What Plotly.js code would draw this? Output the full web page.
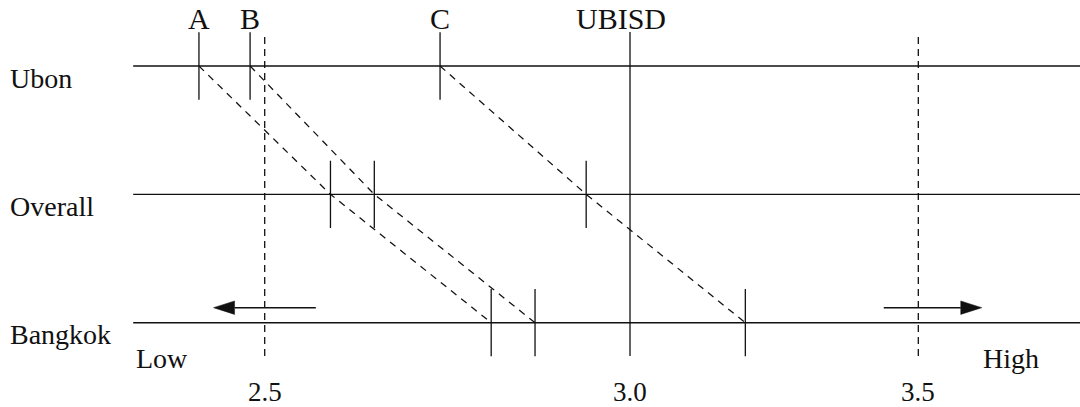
<!DOCTYPE html>
<html>
<head>
<meta charset="utf-8">
<script src="https://cdn.plot.ly/plotly-3.0.1.min.js"></script>
<style>html,body{margin:0;padding:0;background:#fff;}#chart{width:1080px;height:407px;}</style>
</head>
<body>
<div id="chart"></div>
<script>
// ---- data ----
const rows = ["Ubon", "Overall", "Bangkok"];
const rowLevel = [2, 1, 0];
const markNames = ["A", "B", "C"];
const markA = [2.41, 2.59, 2.81];   // Ubon, Overall, Bangkok
const markB = [2.48, 2.65, 2.87];
const markC = [2.74, 2.94, 3.20];
const ubisdName = "UBISD";
const ubisdValue = 3.0;
const thresholds = [2.5, 3.5];
const tickVals = [2.5, 3.0, 3.5];
const tickLabels = ["2.5", "3.0", "3.5"];
const lowArrow = [2.57, 2.43];   // tail, tip
const highArrow = [3.44, 3.61];  // tail, tip
const endLabels = ["Low", "High"];
const endLabelPos = [2.36, 3.66];
const lineExtent = [2.32, 3.9];

// ---- styling constants ----
const FONT = "Liberation Serif, Times New Roman, serif";
const INK = "#111";
const tickHalf = 0.262;
const refTop = 2.265, refBottom = -0.26;
const arrowY = 0.117;

// the printed scale is stretched below 3.0 and compressed above it
const k = 0.7892;
const t = s => (s <= 3 ? s : 3 + (s - 3) * k);

const marks = [markA, markB, markC];
const traces = [];

// row lines
{
  const x = [], y = [];
  rowLevel.forEach(r => { x.push(t(lineExtent[0]), t(lineExtent[1]), null); y.push(r, r, null); });
  traces.push({x, y, mode: "lines", line: {color: INK, width: 1.4}});
}
// threshold dashed lines
{
  const x = [], y = [];
  thresholds.forEach(v => { x.push(t(v), t(v), null); y.push(refBottom, refTop, null); });
  traces.push({x, y, mode: "lines", line: {color: INK, width: 1.3, dash: "7px,5px"}});
}
// UBISD line
traces.push({x: [t(ubisdValue), t(ubisdValue)], y: [refBottom, refTop], mode: "lines", line: {color: INK, width: 1.3}});
// connectors
marks.forEach(m => {
  traces.push({x: m.map(t), y: rowLevel.slice(), mode: "lines", line: {color: INK, width: 1.25, dash: "7px,6px"}});
});
// tick marks
{
  const x = [], y = [];
  marks.forEach(m => m.forEach((v, i) => { x.push(t(v), t(v), null); y.push(rowLevel[i] - tickHalf, rowLevel[i] + tickHalf, null); }));
  traces.push({x, y, mode: "lines", line: {color: INK, width: 1.3}});
}
// arrows
const headL = 21 / 730.6, headH = 6.7 / 128.35;
[lowArrow, highArrow].forEach(a => {
  const tail = t(a[0]), tip = t(a[1]);
  const dir = tip > tail ? 1 : -1;
  const base = tip - dir * headL;
  traces.push({x: [tail, base], y: [arrowY, arrowY], mode: "lines", line: {color: INK, width: 1.4}});
  traces.push({x: [tip, base, base, tip], y: [arrowY, arrowY + headH, arrowY - headH, arrowY],
    mode: "lines", fill: "toself", fillcolor: INK, line: {color: INK, width: 0.5}});
});

const annotations = [];
const topY = 2.37;
// top labels
marks.forEach((m, i) => annotations.push({x: t(m[0]), y: topY, text: markNames[i], showarrow: false,
  xanchor: "center", yanchor: "middle", font: {family: FONT, size: 30, color: INK}}));
annotations.push({x: t(ubisdValue), y: topY, text: ubisdName, showarrow: false, xshift: -9,
  xanchor: "center", yanchor: "middle", font: {family: FONT, size: 30, color: INK}});
// row labels
rows.forEach((r, i) => annotations.push({xref: "paper", x: 0.007, y: rowLevel[i], yshift: -12, text: r,
  showarrow: false, xanchor: "left", yanchor: "middle", font: {family: FONT, size: 28, color: INK}}));
// scale labels
tickVals.forEach((v, i) => annotations.push({x: t(v), y: -0.54, text: tickLabels[i], showarrow: false,
  xanchor: "center", yanchor: "middle", font: {family: FONT, size: 27, color: INK}}));
endLabels.forEach((l, i) => annotations.push({x: t(endLabelPos[i]), y: -0.279, text: l, showarrow: false,
  xanchor: "center", yanchor: "middle", font: {family: FONT, size: 28, color: INK}}));

const layout = {
  width: 1080, height: 407,
  margin: {l: 0, r: 0, t: 0, b: 0},
  paper_bgcolor: "#fff", plot_bgcolor: "#fff",
  showlegend: false, hovermode: false,
  xaxis: {range: [2.1377, 3.6159], visible: false, fixedrange: true},
  yaxis: {range: [-0.6568, 2.5142], visible: false, fixedrange: true},
  annotations
};
Plotly.newPlot("chart", traces, layout, {displayModeBar: false, staticPlot: true});
</script>
</body>
</html>
